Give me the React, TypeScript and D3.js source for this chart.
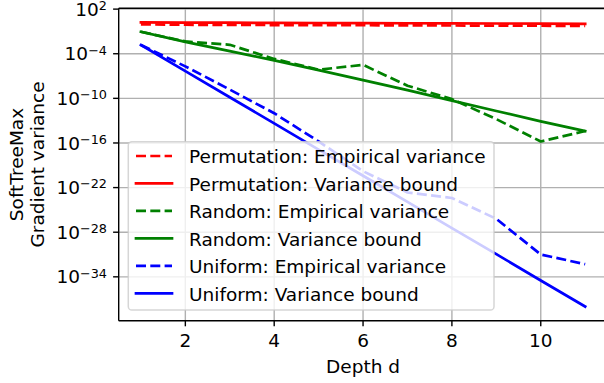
import React from 'react';
import * as d3 from 'd3';

const depths = [1, 2, 3, 4, 5, 6, 7, 8, 9, 10, 11];
const permutationEmpirical = [0.89, 0.79, 0.76, 0.72, 0.71, 0.68, 0.65, 0.63, 0.6, 0.58, 0.56];
const permutationBound = [1.6, 1.5, 1.5, 1.4, 1.35, 1.3, 1.26, 1.2, 1.17, 1.12, 1.07];
const randomEmpirical = [8.9e-2, 4.5e-3, 1.6e-3, 2.0e-5, 7.1e-7, 3.2e-6, 5.0e-9, 7.9e-11, 1.6e-13, 1.6e-16, 4.0e-15];
const randomBound = [8.9e-2, 4.0e-3, 2.2e-4, 1.3e-5, 6.3e-7, 2.8e-8, 1.3e-9, 5.0e-11, 2.0e-12, 7.9e-14, 4.0e-15];
const uniformEmpirical = [1.5e-3, 2.0e-6, 1.5e-9, 1.0e-12, 1.6e-16, 1.6e-20, 2.2e-23, 4.0e-24, 6.3e-27, 1.0e-31, 5.0e-33];
const uniformBound = [1.5e-3, 4.7e-7, 1.4e-10, 4.3e-14, 1.3e-17, 3.9e-21, 1.2e-24, 3.5e-28, 1.1e-31, 3.2e-35, 1.0e-38];

const xTicks = [2, 4, 6, 8, 10];
const yTickExponents = [2, -4, -10, -16, -22, -28, -34];

const seriesNames = [
  'Permutation: Empirical variance',
  'Permutation: Variance bound',
  'Random: Empirical variance',
  'Random: Variance bound',
  'Uniform: Empirical variance',
  'Uniform: Variance bound',
];
const seriesValues = [permutationEmpirical, permutationBound, randomEmpirical, randomBound, uniformEmpirical, uniformBound];
const seriesColors = ['#ff0000', '#ff0000', '#008000', '#008000', '#0000ff', '#0000ff'];
const seriesDashed = [true, false, true, false, true, false];

const W = 604;
const H = 383;
const left = 118.7;
const right = 607.4;
const top = 8.3;
const bottom = 320.7;
const FONT = 'DejaVu Sans';
const FS = 18.5;
const LW = 2.7;
const DASH = '10 4.3';

export default function App() {
  const x = d3.scaleLinear().domain([0.5, 11.5]).range([left, right]);
  const y = d3.scaleLog().domain([Math.pow(10, -39.9), Math.pow(10, 2.11)]).range([bottom, top]);
  const line = d3
    .line<[number, number]>()
    .x((d) => x(d[0]))
    .y((d) => y(d[1]));

  const series = seriesNames.map((name, i) => ({
    name,
    color: seriesColors[i],
    dashed: seriesDashed[i],
    points: depths.map((d, j) => [d, seriesValues[i][j]] as [number, number]),
  }));

  const legX = 128.3;
  const legY = 141.7;
  const legW = 365.7;
  const legH = 168.3;
  const rowY0 = 156;
  const rowStep = 27.47;

  return (
    <svg width={W} height={H} style={{ position: 'absolute', left: 0, top: 0 }} fontFamily={FONT}>
      <defs>
        <clipPath id="plotClip">
          <rect x={left} y={top} width={right - left} height={bottom - top} />
        </clipPath>
      </defs>
      <rect x={0} y={0} width={W} height={H} fill="#ffffff" />
      {/* grid */}
      <g stroke="#b0b0b0" strokeWidth={1.4}>
        {xTicks.map((t) => (
          <line key={'gx' + t} x1={x(t)} x2={x(t)} y1={top} y2={bottom} />
        ))}
        {yTickExponents.map((e) => (
          <line key={'gy' + e} x1={left} x2={right} y1={y(Math.pow(10, e))} y2={y(Math.pow(10, e))} />
        ))}
      </g>
      {/* series */}
      <g clipPath="url(#plotClip)" fill="none">
        {series.map((s) => (
          <path
            key={s.name}
            d={line(s.points) || ''}
            stroke={s.color}
            strokeWidth={LW}
            strokeDasharray={s.dashed ? DASH : undefined}
            strokeLinecap={s.dashed ? 'butt' : 'square'}
            strokeLinejoin="round"
          />
        ))}
      </g>
      {/* legend */}
      <g>
        <rect
          x={legX}
          y={legY}
          width={legW}
          height={legH}
          rx={3.6}
          ry={3.6}
          fill="#ffffff"
          fillOpacity={0.8}
          stroke="#cccccc"
          strokeOpacity={0.8}
          strokeWidth={1.5}
        />
        {series.map((s, i) => {
          const ry = rowY0 + i * rowStep;
          return (
            <g key={'leg' + i}>
              <line
                x1={136}
                x2={172}
                y1={ry}
                y2={ry}
                stroke={s.color}
                strokeWidth={LW}
                strokeDasharray={s.dashed ? DASH : undefined}
                strokeLinecap={s.dashed ? 'butt' : 'square'}
              />
              <text x={189} y={ry + 7.2} fontSize={FS} fill="#000000">
                {s.name}
              </text>
            </g>
          );
        })}
      </g>
      {/* spines */}
      <g stroke="#000000" strokeWidth={1.4} fill="none">
        <line x1={left} x2={left} y1={top} y2={bottom} />
        <line x1={left} x2={right} y1={bottom} y2={bottom} />
        <line x1={left} x2={right} y1={top} y2={top} />
        <line x1={right} x2={right} y1={top} y2={bottom} />
      </g>
      {/* x ticks */}
      <g>
        {xTicks.map((t) => (
          <g key={'xt' + t}>
            <line x1={x(t)} x2={x(t)} y1={bottom} y2={bottom + 5.6} stroke="#000000" strokeWidth={1.4} />
            <text x={x(t)} y={bottom + 26.5} textAnchor="middle" fontSize={FS} fill="#000000">
              {String(t)}
            </text>
          </g>
        ))}
      </g>
      {/* y ticks */}
      <g>
        {yTickExponents.map((e) => {
          const ty = y(Math.pow(10, e));
          const lab = e < 0 ? '\u2212' + String(-e) : String(e);
          return (
            <g key={'yt' + e}>
              <line x1={left - 5.6} x2={left} y1={ty} y2={ty} stroke="#000000" strokeWidth={1.4} />
              <text x={107} y={ty + 6.6} textAnchor="end" fontSize={FS} fill="#000000">
                10
                <tspan dy={-5.8} fontSize={12.8}>
                  {lab}
                </tspan>
              </text>
            </g>
          );
        })}
      </g>
      {/* axis labels */}
      <text x={(left + right) / 2} y={373} textAnchor="middle" fontSize={FS} fill="#000000">
        Depth d
      </text>
      <text transform={`translate(22.5, ${(top + bottom) / 2}) rotate(-90)`} textAnchor="middle" fontSize={FS} fill="#000000">
        SoftTreeMax
      </text>
      <text transform={`translate(43.5, ${(top + bottom) / 2}) rotate(-90)`} textAnchor="middle" fontSize={FS} fill="#000000">
        Gradient variance
      </text>
    </svg>
  );
}
